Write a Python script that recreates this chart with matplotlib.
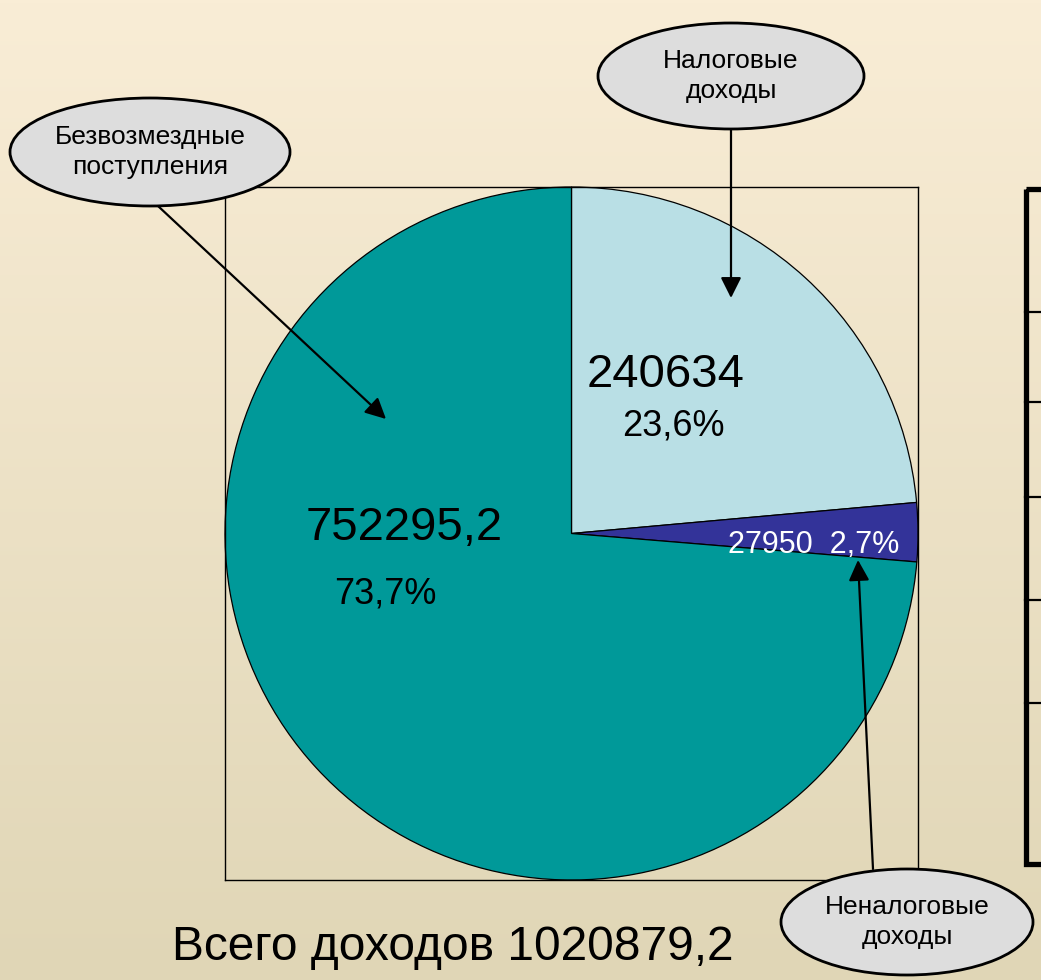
import numpy as np
import matplotlib
matplotlib.use('Agg')
import matplotlib.pyplot as plt
from matplotlib.patches import Ellipse, Rectangle

plt.rcParams['font.family'] = ['Liberation Sans', 'DejaVu Sans']

# data
categories = ['Налоговые\nдоходы', 'Неналоговые\nдоходы', 'Безвозмездные\nпоступления']
values = [240634, 27950, 752295.2]
value_labels = ['240634', '27950', '752295,2']
pct_labels = ['23,6%', '2,7%', '73,7%']
total_label = 'Всего доходов 1020879,2'
colors = ['#B9DFE5', '#333399', '#009999']

W, H = 1041, 980
fig = plt.figure(figsize=(W / 100, H / 100), dpi=100)

# background gradient
bg = fig.add_axes([0, 0, 1, 1])
top = np.array([249, 237, 214]) / 255.0
bot = np.array([224, 214, 182]) / 255.0
t = np.linspace(0, 1, 256)[:, None]
grad = (top[None, :] * (1 - t) + bot[None, :] * t)[:, None, :]
bg.imshow(grad, extent=[0, 1, 0, 1], aspect='auto')
bg.axis('off')

# pie inside a square frame
ax = fig.add_axes([225 / W, (H - 880) / H, 693 / W, 693 / H])
ax.pie(values, colors=colors, startangle=90, counterclock=False, radius=1,
       wedgeprops=dict(edgecolor='black', linewidth=0.9))
ax.set_xlim(-1, 1)
ax.set_ylim(-1, 1)
ax.set_frame_on(True)
ax.set_facecolor('none')
for s in ax.spines.values():
    s.set_linewidth(1.0)
    s.set_color('black')
ax.set_xticks([])
ax.set_yticks([])

# overlay in pixel coordinates
ov = fig.add_axes([0, 0, 1, 1])
ov.set_xlim(0, W)
ov.set_ylim(H, 0)
ov.axis('off')
ov.patch.set_alpha(0)

# labels on the slices
ov.text(666, 387, value_labels[0], fontsize=34, ha='center', va='baseline')
ov.text(673, 435, pct_labels[0], fontsize=26, ha='center', va='baseline')
ov.text(404, 540, value_labels[2], fontsize=34, ha='center', va='baseline')
ov.text(385, 603, pct_labels[2], fontsize=26, ha='center', va='baseline')
ov.text(814, 553, value_labels[1] + '  ' + pct_labels[1], fontsize=22,
        ha='center', va='baseline', color='white')
ov.text(453, 960, total_label, fontsize=34.5, ha='center', va='baseline')

# callout bubbles and arrows
bubbles = [((731, 76), 266, 106), ((907, 922), 252, 106), ((150, 152), 280, 108)]
arrows = [((731, 129), (731, 298)), ((873, 869), (858, 560)), ((158, 206), (386, 419))]
for (c, w, h), name, (p0, p1) in zip(bubbles, categories, arrows):
    ov.annotate('', xy=p1, xytext=p0,
                arrowprops=dict(arrowstyle='-|>,head_length=0.5,head_width=0.25',
                                mutation_scale=25, lw=1.6, color='black',
                                shrinkA=0, shrinkB=0))
    ov.add_patch(Ellipse(c, w, h, facecolor='#DDDDDD', edgecolor='black', lw=2.0, zorder=3))
    ov.text(c[0], c[1], name, fontsize=19, ha='center', va='center',
            linespacing=1.3, zorder=4)

# cut-off frame on the right
ov.add_patch(Rectangle((1025.5, 189), 60, 675, facecolor='none', edgecolor='black', lw=3.8))
for y in [312, 402, 497, 600, 703]:
    ov.plot([1025, W], [y, y], color='black', lw=1.6)

fig.savefig('out.png', dpi=100)
